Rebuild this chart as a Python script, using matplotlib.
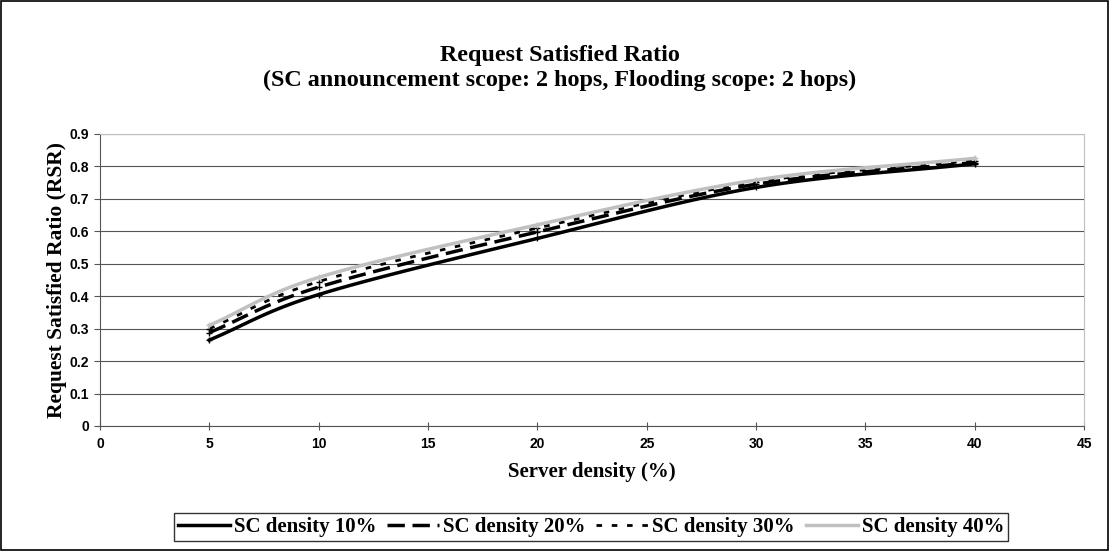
import numpy as np
import matplotlib
matplotlib.use("Agg")
import matplotlib.pyplot as plt
from matplotlib.patches import Rectangle

# values
server_density = [5, 10, 20, 30, 40]
sc10 = [0.265, 0.405, 0.578, 0.735, 0.808]
sc20 = [0.288, 0.428, 0.598, 0.745, 0.812]
sc30 = [0.300, 0.445, 0.610, 0.752, 0.818]
sc40 = [0.310, 0.458, 0.620, 0.758, 0.825]
labels = ["SC density 10%", "SC density 20%", "SC density 30%", "SC density 40%"]


def smooth(x, y, n=30):
    # catmull-rom curve through the points, like excel's smoothed lines
    x = np.asarray(x, float)
    y = np.asarray(y, float)
    px = np.concatenate([[2 * x[0] - x[1]], x, [2 * x[-1] - x[-2]]])
    py = np.concatenate([[2 * y[0] - y[1]], y, [2 * y[-1] - y[-2]]])
    xs, ys = [], []
    t = np.linspace(0, 1, n)
    for i in range(1, len(px) - 2):
        for p, out in ((px, xs), (py, ys)):
            p0, p1, p2, p3 = p[i - 1], p[i], p[i + 1], p[i + 2]
            out.extend(0.5 * (2 * p1 + (-p0 + p2) * t
                              + (2 * p0 - 5 * p1 + 4 * p2 - p3) * t ** 2
                              + (-p0 + 3 * p1 - 3 * p2 + p3) * t ** 3))
    return xs, ys


fig = plt.figure(figsize=(11.09, 5.51), dpi=100)
ax = fig.add_axes([0.0902, 0.2269, 0.8873, 0.530])

styles = [
    dict(color="black", lw=2.5, ls="-"),
    dict(color="black", lw=2.5, ls=(0, (5, 2.2))),
    dict(color="black", lw=2.0, ls=(0, (2, 3.5))),
    dict(color="#c0c0c0", lw=2.5, ls="-"),
]
for ys, lab, st in zip([sc10, sc20, sc30, sc40], labels, styles):
    sx, sy = smooth(server_density, ys)
    ax.plot(sx, sy, label=lab, **st)
    ax.plot(server_density, ys, ls="none", marker="+", ms=4, mew=1, color=st["color"])

ax.set_xlim(0, 45)
ax.set_ylim(0, 0.9)
ax.set_xticks(range(0, 46, 5))
ax.set_yticks(np.arange(0, 0.91, 0.1))
ax.set_yticklabels(["0"] + ["%.1f" % v for v in np.arange(0.1, 0.91, 0.1)])
ax.grid(axis="y", color="#555555", lw=0.8)
ax.set_axisbelow(True)
for lab in ax.get_xticklabels() + ax.get_yticklabels():
    lab.set_fontfamily("Liberation Sans")
    lab.set_fontweight("bold")
    lab.set_fontsize(10)
ax.tick_params(axis="x", direction="inout", length=6, color="#555555", pad=5)
ax.tick_params(axis="y", direction="out", length=4, color="#555555", pad=4)
ax.spines["left"].set_color("#555555")
ax.spines["bottom"].set_color("#555555")
ax.spines["top"].set_color("#c0c0c0")
ax.spines["right"].set_color("#c0c0c0")

tfont = dict(family="Liberation Serif", weight="bold")
fig.text(0.505, 1 - 61 / 551, "Request Satisfied Ratio", ha="center", va="baseline", size=17.4, **tfont)
fig.text(0.505, 1 - 86 / 551, "(SC announcement scope: 2 hops, Flooding scope: 2 hops)",
         ha="center", va="baseline", size=17.4, **tfont)
ax.set_xlabel("Server density (%)", fontdict=dict(size=15, **tfont), labelpad=8)
ax.set_ylabel("Request Satisfied Ratio (RSR)", fontdict=dict(size=15.5, **tfont), labelpad=2)

leg = fig.legend(loc="center", bbox_to_anchor=(0.533, 0.0436), ncol=4, frameon=True,
                 fancybox=False, edgecolor="black", handlelength=2.5, handletextpad=0.2,
                 columnspacing=0.5, borderpad=0.2,
                 prop=dict(family="Liberation Serif", weight="bold", size=15))
leg.get_frame().set_linewidth(1.0)

fig.patches.append(Rectangle((0.001, 0.001), 0.998, 0.997, transform=fig.transFigure,
                             fill=False, edgecolor="black", lw=1.2))

fig.savefig("out.png", dpi=100)
